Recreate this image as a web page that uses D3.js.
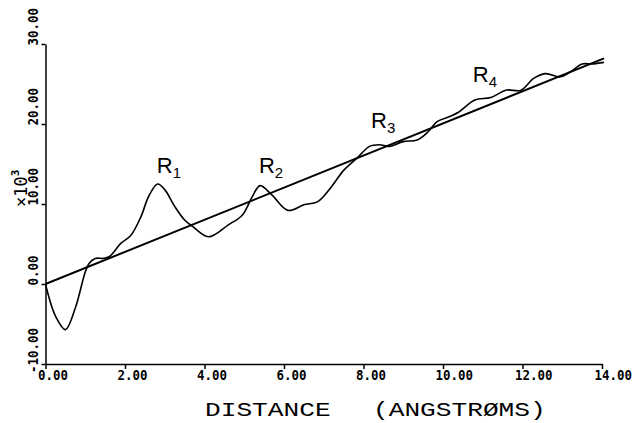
<!DOCTYPE html>
<html>
<head>
<meta charset="utf-8">
<script src="https://cdn.jsdelivr.net/npm/d3@7"></script>
<style>
  body { margin: 0; background: #fff; }
  svg { display: block; }
</style>
</head>
<body>
<svg id="chart" width="636" height="423"></svg>
<script>
// radial curve (x in angstroms, y in units of 10^3)
const distance = [0, 0.25, 0.5, 0.75, 1.0, 1.1, 1.25, 1.45, 1.6, 1.9, 2.15, 2.4, 2.6, 2.82, 3.0,
  3.25, 3.5, 3.7, 4.1, 4.6, 4.95, 5.2, 5.4, 5.7, 6.1, 6.5, 6.85, 7.2, 7.5, 7.85, 8.15, 8.4,
  8.65, 9.0, 9.35, 9.62, 9.85, 10.15, 10.4, 10.8, 11.2, 11.6, 11.95, 12.28, 12.57, 12.95,
  13.2, 13.5, 13.75, 14.05];
const intensity = [0, -4.0, -5.7, -3.0, 1.5, 2.6, 3.2, 3.2, 3.4, 5.1, 6.1, 8.4, 11.0, 12.5, 11.8,
  9.7, 8.0, 7.2, 5.9, 7.4, 8.6, 10.9, 12.3, 11.1, 9.2, 9.9, 10.3, 12.2, 14.2, 15.8, 17.2, 17.4,
  17.2, 17.8, 18.0, 19.0, 20.3, 20.9, 21.5, 23.0, 23.3, 24.25, 24.2, 25.7, 26.3, 25.9,
  26.5, 27.5, 27.5, 27.7];

// straight reference line
const fitX = [0, 14.05];
const fitY = [0, 28.2];

const xTicks = [0, 2, 4, 6, 8, 10, 12, 14];
const yTicks = [-10, 0, 10, 20, 30];

// shell labels R1..R4 (anchor in data units)
const shellNames = ["1", "2", "3", "4"];
const shellX = [2.8, 5.37, 8.19, 10.75];
const shellY = [13.9, 13.9, 19.5, 25.25];

const titleWords = ["DISTANCE", "(ANGSTRØMS)"];

const svg = d3.select("#chart");
svg.append("rect").attr("width", 636).attr("height", 423).attr("fill", "#fff");

const x = d3.scaleLinear().domain([0, 14]).range([45.5, 602]);
const y = d3.scaleLinear().domain([-10, 30]).range([364, 44]);

const labelFont = "'DejaVu Sans Mono', monospace";
const pitch = 7.5;

// x axis
const xAxis = svg.append("g")
  .attr("transform", `translate(0,${y(-10)})`)
  .call(d3.axisBottom(x).tickValues(xTicks).tickSize(5).tickSizeOuter(0).tickFormat(d3.format(".2f")));

xAxis.selectAll("text")
  .attr("text-anchor", "start")
  .attr("x", -8)
  .attr("y", 16)
  .attr("dy", 0)
  .attr("textLength", function() { return this.textContent.length * pitch; })
  .attr("lengthAdjust", "spacingAndGlyphs");

// y axis
const yAxis = svg.append("g")
  .attr("transform", `translate(${x(0)},0)`)
  .call(d3.axisLeft(y).tickValues(yTicks).tickSize(4).tickSizeOuter(0)
    .tickFormat(d => d3.format(".2f")(d).replace("−", "-")));

yAxis.selectAll("text")
  .attr("transform", "rotate(-90)")
  .attr("text-anchor", "start")
  .attr("x", d => d < 0 ? -(pitch + 1) : -1)
  .attr("y", -7.5)
  .attr("dy", 0)
  .attr("textLength", function() { return this.textContent.length * pitch; })
  .attr("lengthAdjust", "spacingAndGlyphs");

svg.selectAll(".tick text")
  .attr("fill", "#000")
  .style("font-family", labelFont)
  .style("font-weight", "bold")
  .style("font-size", "13.5px");

svg.selectAll(".domain, .tick line")
  .attr("stroke", "#000")
  .attr("stroke-width", 1.5);

// scale factor label
const mult = svg.append("text")
  .attr("transform", "translate(27,207) rotate(-90)")
  .attr("fill", "#000")
  .style("font-family", labelFont)
  .style("font-size", "17px");
mult.append("tspan").text("×10");
mult.append("tspan").attr("dy", -8).style("font-size", "11px").style("font-weight", "bold").text("3");

// fitted straight line
svg.append("path")
  .datum(d3.zip(fitX, fitY))
  .attr("fill", "none")
  .attr("stroke", "#000")
  .attr("stroke-width", 2)
  .attr("d", d3.line().x(d => x(d[0])).y(d => y(d[1])));

// oscillating curve
svg.append("path")
  .datum(d3.zip(distance, intensity))
  .attr("fill", "none")
  .attr("stroke", "#000")
  .attr("stroke-width", 1.6)
  .attr("stroke-linejoin", "round")
  .attr("d", d3.line().curve(d3.curveCatmullRom.alpha(0.5)).x(d => x(d[0])).y(d => y(d[1])));

// R labels
const shells = svg.selectAll(".shell")
  .data(shellNames)
  .enter()
  .append("text")
  .attr("class", "shell")
  .attr("x", (d, i) => x(shellX[i]))
  .attr("y", (d, i) => y(shellY[i]))
  .attr("fill", "#000")
  .style("font-family", "'Liberation Sans', Arial, sans-serif")
  .style("font-size", "22px");
shells.append("tspan").text("R");
shells.append("tspan").attr("dy", 5).style("font-size", "15px").text(d => d);

// x axis title, two words
const titleX = [205, 373];
svg.selectAll(".title")
  .data(titleWords)
  .enter()
  .append("text")
  .attr("class", "title")
  .attr("x", (d, i) => titleX[i])
  .attr("y", 416)
  .attr("fill", "#000")
  .attr("textLength", d => d.length * 15.7)
  .attr("lengthAdjust", "spacingAndGlyphs")
  .style("font-family", "'Liberation Mono', monospace")
  .style("font-size", "21px")
  .text(d => d);
</script>
</body>
</html>
